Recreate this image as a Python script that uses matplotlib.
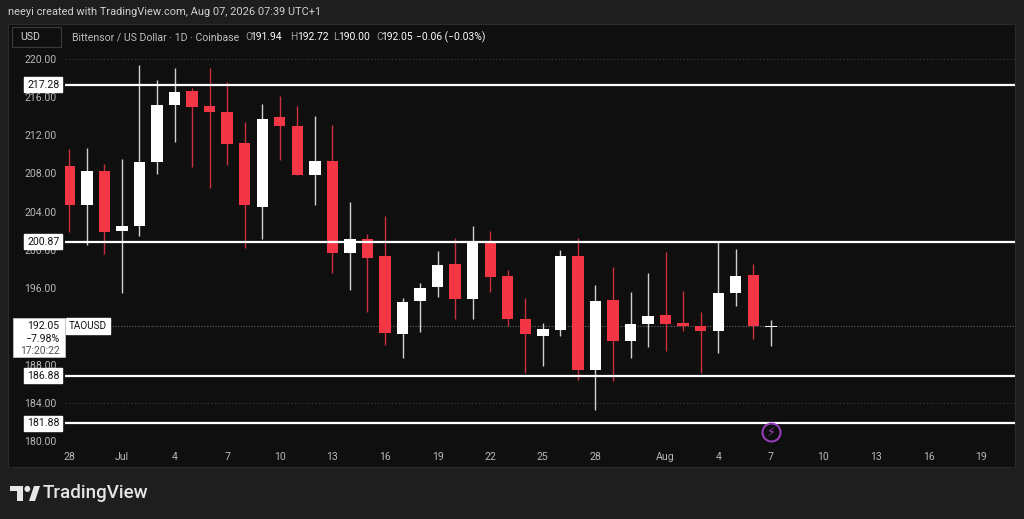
import matplotlib.pyplot as plt
import matplotlib.dates as mdates
import pandas as pd
from matplotlib.patches import Rectangle, Polygon
from matplotlib.transforms import blended_transform_factory

plt.rcParams["font.family"] = ["Roboto", "DejaVu Sans"]

# daily TAO/USD candles, Jun 28 .. Aug 7
dates = pd.date_range("2026-06-28", "2026-08-07", freq="D")
opens = [208.8, 204.7, 208.2, 202.0, 202.5, 209.2, 215.1, 216.6, 215.0, 214.4,
         211.2, 204.5, 213.9, 213.0, 207.8, 209.3, 199.7, 201.2, 199.4, 191.2,
         194.7, 196.1, 198.5, 194.9, 200.8, 197.3, 192.8, 191.0, 191.6, 199.4,
         187.5, 194.8, 190.5, 192.3, 193.2, 192.4, 192.1, 191.5, 195.5, 197.4,
         191.94]
closes = [204.7, 208.3, 201.9, 202.5, 209.2, 215.1, 216.5, 214.9, 214.4, 211.1,
          204.7, 213.7, 213.0, 207.8, 209.3, 199.7, 201.1, 199.2, 191.3, 194.6,
          196.0, 198.4, 194.9, 200.8, 197.2, 192.8, 191.2, 191.7, 199.4, 187.5,
          194.7, 190.5, 192.3, 193.1, 192.3, 192.1, 191.5, 195.5, 197.3, 192.11,
          192.05]
highs = [210.6, 210.7, 209.0, 209.5, 219.3, 217.8, 219.0, 216.9, 219.0, 217.5,
         213.4, 215.3, 216.1, 215.0, 214.0, 213.1, 205.0, 201.7, 203.5, 195.0,
         196.6, 199.9, 201.3, 202.5, 202.0, 197.9, 195.0, 192.4, 200.0, 201.3,
         196.3, 198.2, 195.6, 197.6, 199.8, 195.7, 193.5, 200.9, 200.1, 198.5,
         192.72]
lows = [201.9, 200.5, 199.6, 195.5, 201.5, 207.9, 211.3, 208.7, 206.5, 208.9,
        200.2, 201.1, 209.4, 207.8, 204.7, 197.6, 195.8, 193.5, 190.1, 188.7,
        191.4, 195.1, 192.8, 192.8, 195.6, 192.1, 187.1, 187.9, 191.0, 186.4,
        183.3, 186.3, 188.7, 189.9, 189.5, 191.5, 187.2, 189.2, 194.1, 190.7,
        190.00]

levels = [217.28, 200.87, 186.88, 181.88]
last_price = 192.05
grid_levels = [220.0, 184.0]
# 192.00 sits under the last-price tag, so it is left out
yticks = [220, 216, 212, 208, 204, 200, 196, 188, 184, 180]
tick_dates = ["2026-06-28", "2026-07-01", "2026-07-04", "2026-07-07", "2026-07-10",
              "2026-07-13", "2026-07-16", "2026-07-19", "2026-07-22", "2026-07-25",
              "2026-07-28", "2026-08-01", "2026-08-04", "2026-08-07", "2026-08-10",
              "2026-08-13", "2026-08-16", "2026-08-19"]
tick_labels = ["28", "Jul", "4", "7", "10", "13", "16", "19", "22", "25", "28",
               "Aug", "4", "7", "10", "13", "16", "19"]

RED = "#f23645"
WHITE = "#ffffff"
TXT = "#b8b8b8"

W, H = 1024, 519
fig = plt.figure(figsize=(W / 100, H / 100), dpi=100, facecolor="#1e1e1e")

# dark chart panel
panel = fig.add_axes([8 / W, 1 - 467 / H, 1007 / W, 443 / H], zorder=-1)
panel.set_facecolor("#0f0f0f")
panel.set_xticks([])
panel.set_yticks([])
for s in panel.spines.values():
    s.set_color("#2b2b2b")

ax = fig.add_axes([65 / W, 1 - 445 / H, 950 / W, 415 / H])
ax.set_facecolor("none")
for s in ax.spines.values():
    s.set_visible(False)

x = mdates.date2num(dates)
day0 = x[0]
ax.set_xlim(day0 - 0.245, day0 + 53.92)
ax.set_ylim(179.63, 222.98)

# candles
cols = [WHITE if c >= o else RED for o, c in zip(opens, closes)]
wick_cols = ["#d0d0d0" if c == WHITE else "#c7303d" for c in cols]
ax.vlines(x, lows, highs, colors=wick_cols, lw=1, zorder=3)
bottoms = [min(o, c) for o, c in zip(opens, closes)]
heights = [max(abs(c - o), 0.12) for o, c in zip(opens, closes)]
ax.bar(x, heights, bottom=bottoms, width=0.65, color=cols, lw=0, zorder=4)

# grid-ish dotted lines and the last price line
for g in grid_levels:
    ax.axhline(g, color="#303030", lw=1, ls=(0, (1, 1.5)), zorder=1)
ax.axhline(last_price, color="#6a6a6a", lw=0.8, ls=(0, (1, 1.5)), zorder=1)

# horizontal levels
for lv in levels:
    ax.axhline(lv, color=WHITE, lw=1.6, zorder=5)

# axes ticks
ax.set_yticks(yticks)
ax.set_yticklabels([f"{v:.2f}" for v in yticks])
ax.set_xticks(mdates.date2num(pd.to_datetime(tick_dates)))
ax.set_xticklabels(tick_labels)
ax.tick_params(axis="y", length=0, pad=6, labelsize=7.6, labelcolor=TXT)
ax.tick_params(axis="x", length=0, pad=5, labelsize=7.6, labelcolor=TXT)

# level labels on price scale
tr = blended_transform_factory(ax.transAxes, ax.transData)
for lv in levels:
    ax.text(-0.006, lv, f"{lv:.2f}", transform=tr, ha="right", va="center",
            fontsize=7.6, color="#131313", clip_on=False, zorder=10,
            bbox=dict(boxstyle="square,pad=0.25", fc=WHITE, ec=WHITE))

# last price label
ax.add_patch(Rectangle((-0.0547, last_price - 3.24), 0.0547, 4.08, transform=tr,
                       fc=WHITE, ec="#cccccc", lw=0.5, clip_on=False, zorder=9))
ax.text(-0.006, last_price, f"{last_price:.2f}", transform=tr, ha="right",
        va="center", fontsize=7.6, color="#131313", clip_on=False, zorder=10)
ax.text(-0.006, last_price - 1.3, "\u22127.98%", transform=tr, ha="right",
        va="center", fontsize=7.6, color="#131313", clip_on=False, zorder=10)
ax.text(-0.006, last_price - 2.55, "17:20:22", transform=tr, ha="right",
        va="center", fontsize=7.4, color="#505050", clip_on=False, zorder=10)
ax.text(0.004, last_price, "TAOUSD", transform=tr, ha="left", va="center",
        fontsize=7.2, color="#131313", zorder=10,
        bbox=dict(boxstyle="square,pad=0.3", fc=WHITE, ec=WHITE))

# lightning marker under the last candle
ax.plot([x[-1]], [181.0], "o", ms=13, mfc="none", mec="#9c3fc0", mew=1.4,
        clip_on=False, zorder=6)
ax.text(x[-1], 181.0, "\u26a1", ha="center", va="center", fontsize=9,
        color="#9c3fc0", family="DejaVu Sans", zorder=7)

# header texts
fig.text(8 / W, 1 - 12 / H, "neeyi created with TradingView.com, Aug 07, 2026 07:39 UTC+1",
         fontsize=7.9, color="#d0d0d0", va="center", ha="left")
fig.patches.append(Rectangle((12 / W, 1 - 47 / H), 49 / W, 20 / H, transform=fig.transFigure,
                             fc="#0f0f0f", ec="#3a3a3a", lw=0.8))
fig.text(20 / W, 1 - 37.5 / H, "USD", fontsize=7.6, color="#d8d8d8", va="center")
fig.text(72 / W, 1 - 37.5 / H, "Bittensor / US Dollar \u00b7 1D \u00b7 Coinbase",
         fontsize=7.6, color="#bdbdbd", va="center")
hdr = [(245, "O", "#9a9a9a"), (250.5, "191.94", WHITE), (290.5, "H", "#9a9a9a"),
       (297, "192.72", WHITE), (333.5, "L", "#9a9a9a"), (338.5, "190.00", WHITE),
       (376, "C", "#9a9a9a"), (381.5, "192.05", WHITE),
       (416.5, "\u22120.06 (\u22120.03%)", WHITE)]
for px, s, c in hdr:
    fig.text(px / W, 1 - 37.5 / H, s, fontsize=7.4, color=c, va="center")

# TradingView logo
lt = fig.transFigure
fig.patches.append(Rectangle((10 / W, 1 - 491 / H), 13 / W, 5 / H, transform=lt, fc="#e6e6e6"))
fig.patches.append(Rectangle((17 / W, 1 - 501 / H), 6 / W, 15 / H, transform=lt, fc="#e6e6e6"))
fig.patches.append(Polygon([(29 / W, 1 - 501 / H), (35 / W, 1 - 501 / H),
                            (40 / W, 1 - 486 / H), (34 / W, 1 - 486 / H)],
                           transform=lt, fc="#e6e6e6"))
fig.text(27 / W, 1 - 489 / H, "\u25cf", fontsize=5.5, color="#e6e6e6", ha="center", va="center",
         family="DejaVu Sans")
fig.text(43 / W, 1 - 493.5 / H, "TradingView", fontsize=13.5, color="#e6e6e6",
         va="center", ha="left", weight="medium")

fig.savefig("out.png", dpi=100, facecolor=fig.get_facecolor())
